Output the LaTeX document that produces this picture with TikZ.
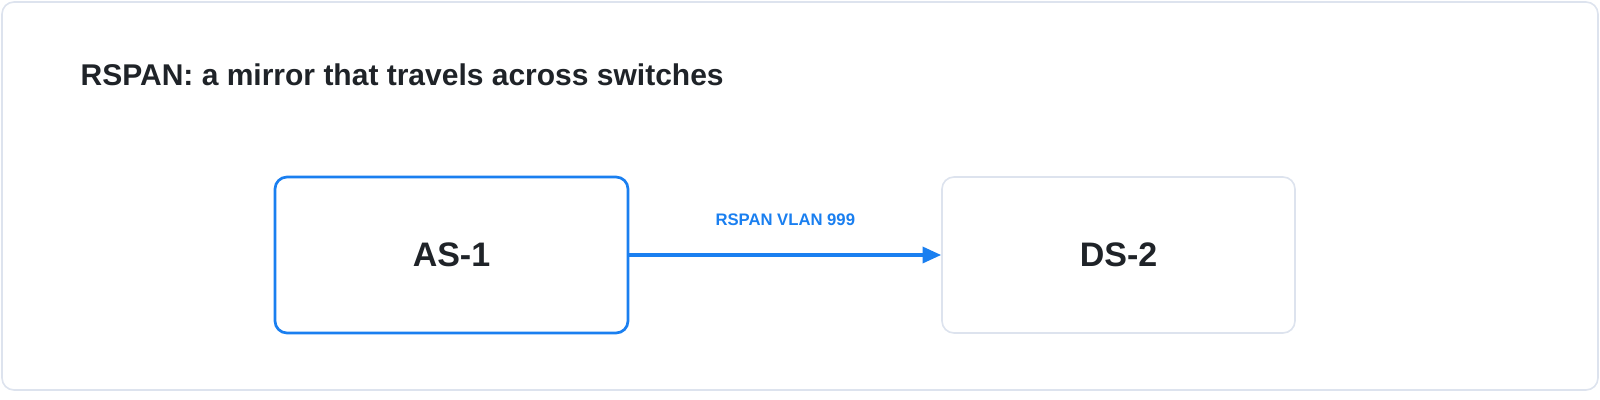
\documentclass[tikz,border=0pt]{standalone}
\usepackage{fontspec}
\setmainfont{Liberation Sans}
\usetikzlibrary{arrows.meta}
\definecolor{blu}{HTML}{1A7FF0}
\definecolor{edge}{HTML}{DDE3EE}
\definecolor{ink}{HTML}{1F2328}
\begin{document}
\begin{tikzpicture}[x=0.75pt,y=-0.75pt,
  box/.style={draw, rounded corners=9pt, minimum width=353*0.75pt, minimum height=156*0.75pt, font=\fontsize{25.5}{30}\selectfont\bfseries, text=ink, fill=white}]
\useasboundingbox (0,0) rectangle (1600,400);
\draw[edge, line width=1.2pt, rounded corners=9pt, fill=white] (2,2) rectangle (1598,390);
\node[anchor=west, font=\fontsize{22.5}{27}\selectfont\bfseries, text=ink] (title) at (76,75) {RSPAN: a mirror that travels across switches};
\node[box, draw=blu, line width=2pt] (as) at (451.5,255) {AS-1};
\node[box, draw=edge, line width=1.2pt] (ds) at (1118.5,255) {DS-2};
\draw[blu, line width=2.6pt, -{Triangle[length=14pt,width=12pt]}] (as.east) -- node[above=17pt, font=\fontsize{12.5}{14}\selectfont\bfseries, text=blu] (lbl) {RSPAN VLAN 999} (ds.west);
\end{tikzpicture}
\end{document}
